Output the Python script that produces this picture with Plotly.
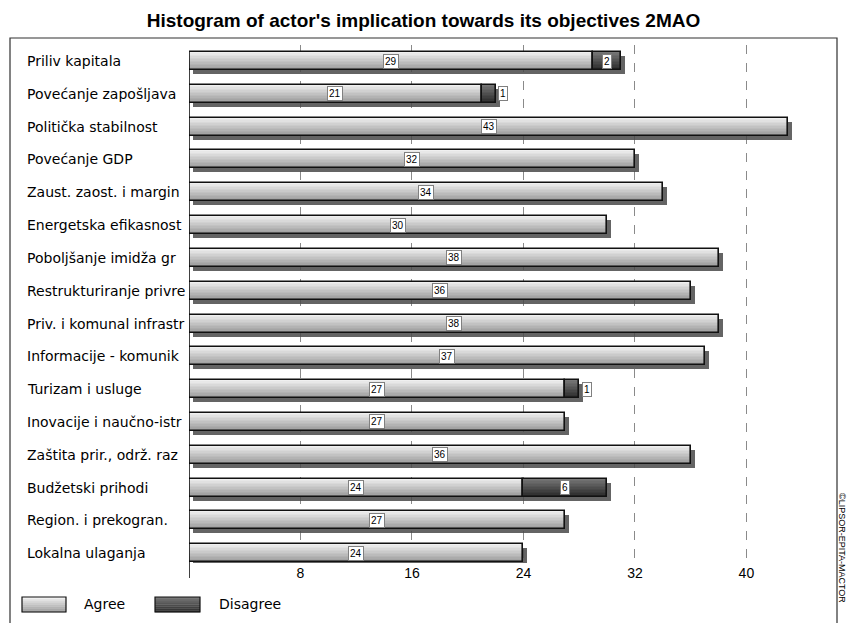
import plotly.graph_objects as go

categories = [
    "Priliv kapitala", "Povećanje zapošljava", "Politička stabilnost", "Povećanje GDP",
    "Zaust. zaost. i margin", "Energetska efikasnost", "Poboljšanje imidža gr",
    "Restrukturiranje privre", "Priv. i komunal infrastr", "Informacije - komunik",
    "Turizam i usluge", "Inovacije i naučno-istr", "Zaštita prir., održ. raz",
    "Budžetski prihodi", "Region. i prekogran.", "Lokalna ulaganja",
]
agree = [29, 21, 43, 32, 34, 30, 38, 36, 38, 37, 27, 27, 36, 24, 27, 24]
disagree = [2, 1, 0, 0, 0, 0, 0, 0, 0, 0, 1, 0, 0, 6, 0, 0]
tick_values = [8, 16, 24, 32, 40]
title_text = "Histogram of actor's implication towards its objectives 2MAO"
series_names = ["Agree", "Disagree"]
copyright_text = "©LIPSOR-EPITA-MACTOR"

W, H = 847, 623
ML, MR, MT, MB = 189, 17, 45, 60
PW, PH = W - ML - MR, H - MT - MB
XMAX = 46.0
ROW_PX = PH / (15.3 + 0.49)
PX_PER_UNIT = PW / XMAX


def px_x(p):
    return (p - ML) / PW


def px_y(p):
    return (H - MB - p) / PH


def hexmix(c1, c2, t):
    a = [int(c1[i:i + 2], 16) for i in (1, 3, 5)]
    b = [int(c2[i:i + 2], 16) for i in (1, 3, 5)]
    return "#" + "".join(f"{round(a[k] + (b[k] - a[k]) * t):02x}" for k in range(3))


BAR_W = 18 / ROW_PX
NSTRIP = 12
AGREE_GRAD = ("#f0f0f0", "#9c9c9c")
DIS_GRAD = ("#777777", "#2c2c2c")

fig = go.Figure()

totals = [a + d for a, d in zip(agree, disagree)]
# drop shadow
fig.add_trace(go.Bar(
    y=categories, x=totals, base=[4 / PX_PER_UNIT] * len(totals), orientation="h",
    width=BAR_W, offset=-BAR_W / 2 + 4 / ROW_PX,
    marker=dict(color="#4a4a4a", line=dict(width=0)),
    opacity=0.85, showlegend=False, hoverinfo="skip",
))


def add_series(vals, bases, grad, name):
    for i in range(NSTRIP):
        t = i / (NSTRIP - 1)
        sw = BAR_W / NSTRIP
        fig.add_trace(go.Bar(
            y=categories, x=vals, base=bases, orientation="h",
            width=sw * 1.2 if i < NSTRIP - 1 else sw, offset=-BAR_W / 2 + i * sw,
            marker=dict(color=hexmix(grad[0], grad[1], t), line=dict(width=0)),
            showlegend=False, hoverinfo="skip", name=name,
        ))
    fig.add_trace(go.Bar(
        y=categories, x=vals, base=bases, orientation="h",
        width=BAR_W, offset=-BAR_W / 2,
        marker=dict(color="rgba(0,0,0,0)", line=dict(color="#111111", width=1.6)),
        showlegend=False, hoverinfo="skip", name=name,
    ))


add_series(agree, [0] * len(agree), AGREE_GRAD, series_names[0])
dis_vals = [d if d > 0 else None for d in disagree]
add_series(dis_vals, agree, DIS_GRAD, series_names[1])

annotations = []
# value labels
for cat, a, d in zip(categories, agree, disagree):
    for start, v in ((0, a), (a, d)):
        if v <= 0:
            continue
        if v >= 2:
            xpos, anchor = start + v / 2, "center"
        else:
            xpos, anchor = start + v + 0.2, "left"
        annotations.append(dict(
            x=xpos, y=cat, xref="x", yref="y", text=str(v), showarrow=False,
            xanchor=anchor, yanchor="middle",
            font=dict(family="Liberation Sans", size=10, color="#000000"),
            bgcolor="#ffffff", bordercolor="#808080", borderwidth=1, borderpad=1,
        ))
# category labels (left-aligned)
for cat in categories:
    annotations.append(dict(
        x=px_x(25), y=cat, xref="paper", yref="y", text=cat, showarrow=False,
        xanchor="left", yanchor="middle",
        font=dict(family="DejaVu Sans", size=14, color="#000000"),
    ))
# legend text
annotations.append(dict(x=px_x(82), y=px_y(604), xref="paper", yref="paper",
                        text=series_names[0], showarrow=False, xanchor="left", yanchor="middle",
                        font=dict(family="DejaVu Sans", size=14, color="#000000")))
annotations.append(dict(x=px_x(217), y=px_y(604), xref="paper", yref="paper",
                        text=series_names[1], showarrow=False, xanchor="left", yanchor="middle",
                        font=dict(family="DejaVu Sans", size=14, color="#000000")))
# copyright
annotations.append(dict(x=px_x(842), y=px_y(548), xref="paper", yref="paper",
                        text=copyright_text, showarrow=False, textangle=90,
                        xanchor="center", yanchor="middle",
                        font=dict(family="Liberation Sans", size=9, color="#000000")))

shapes = []
# outer frame
shapes.append(dict(type="rect", xref="paper", yref="paper",
                   x0=px_x(10), x1=px_x(837), y0=px_y(640), y1=px_y(38),
                   line=dict(color="#303030", width=1.2), fillcolor="rgba(0,0,0,0)", layer="below"))
# vertical axis line
shapes.append(dict(type="line", xref="x", yref="paper", x0=0, x1=0,
                   y0=px_y(578), y1=px_y(52), line=dict(color="#000000", width=1.5)))
# legend boxes with gradient
for (bx0, bx1), grad in (((22, 66), AGREE_GRAD), ((155, 200), DIS_GRAD)):
    by0, by1 = 597, 612
    n = 8
    for i in range(n):
        t = i / (n - 1)
        shapes.append(dict(type="rect", xref="paper", yref="paper",
                           x0=px_x(bx0), x1=px_x(bx1),
                           y0=px_y(by0 + (by1 - by0) * (i + 1) / n + 0.3),
                           y1=px_y(by0 + (by1 - by0) * i / n),
                           line=dict(width=0), fillcolor=hexmix(grad[0], grad[1], t)))
    shapes.append(dict(type="rect", xref="paper", yref="paper",
                       x0=px_x(bx0), x1=px_x(bx1), y0=px_y(by1), y1=px_y(by0),
                       line=dict(color="#111111", width=1.2), fillcolor="rgba(0,0,0,0)"))

fig.update_layout(
    width=W, height=H,
    margin=dict(l=ML, r=MR, t=MT, b=MB),
    paper_bgcolor="#ffffff", plot_bgcolor="#ffffff",
    barmode="overlay", bargap=0,
    title=dict(text=f"<b>{title_text}</b>", x=0.5, xref="container", xanchor="center",
               y=1 - 20 / H, yanchor="middle", yref="container",
               font=dict(family="Liberation Sans", size=19, color="#000000")),
    xaxis=dict(range=[0, XMAX], tickvals=tick_values, ticktext=[str(v) for v in tick_values],
               showgrid=True, gridcolor="#8a8a8a", griddash="dash", gridwidth=1,
               zeroline=False, showline=False, ticks="",
               tickfont=dict(family="Liberation Sans", size=14, color="#000000")),
    yaxis=dict(categoryorder="array", categoryarray=categories, type="category",
               range=[15.3, -0.49], showticklabels=False, showgrid=False,
               zeroline=False, showline=False, ticks=""),
    annotations=annotations, shapes=shapes, showlegend=False,
)

fig.write_html("out.html", config={"displayModeBar": False})

# remove the browser's default page margin so the figure sits at the window origin
with open("out.html", encoding="utf-8") as f:
    html = f.read()
html = html.replace("<head>", "<head><style>html,body{margin:0;padding:0;overflow:hidden;}</style>", 1)
with open("out.html", "w", encoding="utf-8") as f:
    f.write(html)
